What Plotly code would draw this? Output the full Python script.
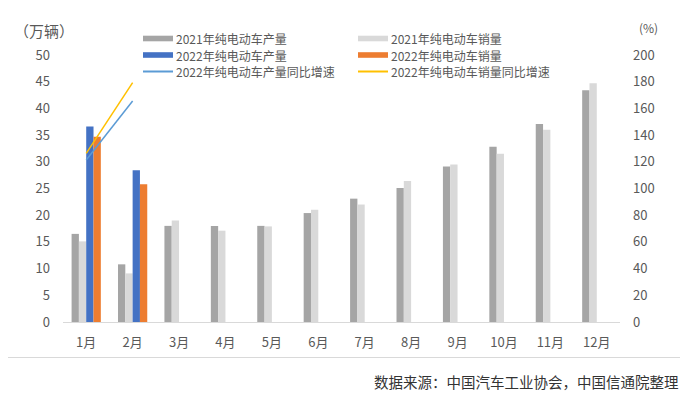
import plotly.graph_objects as go

months = ["1月", "2月", "3月", "4月", "5月", "6月", "7月", "8月", "9月", "10月", "11月", "12月"]
prod_2021 = [16.5, 10.8, 18.0, 18.0, 18.0, 20.4, 23.1, 25.1, 29.1, 32.8, 37.1, 43.4]
sales_2021 = [15.1, 9.1, 19.0, 17.1, 17.9, 21.0, 22.0, 26.4, 29.5, 31.5, 36.0, 44.7]
months_2022 = ["1月", "2月"]
prod_2022 = [36.6, 28.4]
sales_2022 = [34.7, 25.8]
prod_growth_2022 = [121.3, 165.6]
sales_growth_2022 = [126.3, 179.3]

names = ["2021年纯电动车产量", "2021年纯电动车销量", "2022年纯电动车产量",
         "2022年纯电动车销量", "2022年纯电动车产量同比增速", "2022年纯电动车销量同比增速"]
colors = ["#a5a5a5", "#d9d9d9", "#4472c4", "#ed7d31", "#5b9bd5", "#ffc000"]

# page has an 8px body margin; lay out in window pixel coordinates and shift
OFF = 8
W, H = 688 - OFF, 399 - OFF
L, R, T, B = 63 - OFF, 620 - OFF, 55 - OFF, 322 - OFF

def px(x):
    return (x - OFF - L) / (R - L)

def py(y):
    return (B - (y - OFF)) / (B - T)

FONT = "Noto Sans CJK SC, Noto Sans, sans-serif"
TXT = "#595959"

fig = go.Figure()
fig.add_trace(go.Bar(x=months, y=prod_2021, name=names[0], marker_color=colors[0], marker_line_width=0))
fig.add_trace(go.Bar(x=months, y=sales_2021, name=names[1], marker_color=colors[1], marker_line_width=0))
fig.add_trace(go.Bar(x=months_2022, y=prod_2022, name=names[2], marker_color=colors[2], marker_line_width=0))
fig.add_trace(go.Bar(x=months_2022, y=sales_2022, name=names[3], marker_color=colors[3], marker_line_width=0))
fig.add_trace(go.Scatter(x=months_2022, y=prod_growth_2022, name=names[4], mode="lines",
                         line=dict(color=colors[4], width=1.5), yaxis="y2"))
fig.add_trace(go.Scatter(x=months_2022, y=sales_growth_2022, name=names[5], mode="lines",
                         line=dict(color=colors[5], width=1.5), yaxis="y2"))

shapes = []
annotations = []
# outer frame
shapes.append(dict(type="rect", xref="paper", yref="paper", x0=px(5.5), x1=px(680.5), y0=py(357.5), y1=py(7.5),
                   line=dict(color="#d9d9d9", width=1), fillcolor="rgba(0,0,0,0)", layer="below"))

# legend (2 columns x 3 rows)
cols_x = [143, 358]
rows_y = [38.5, 55, 71.5]
for i, nm in enumerate(names):
    r, c = divmod(i, 2)
    x0 = cols_x[c]
    yc = rows_y[r]
    if i < 4:
        shapes.append(dict(type="rect", xref="paper", yref="paper", x0=px(x0), x1=px(x0 + 30),
                           y0=py(yc + 2.8), y1=py(yc - 2.8), line=dict(width=0), fillcolor=colors[i]))
    else:
        shapes.append(dict(type="line", xref="paper", yref="paper", x0=px(x0), x1=px(x0 + 30),
                           y0=py(yc), y1=py(yc), line=dict(color=colors[i], width=2)))
    annotations.append(dict(text=nm, xref="paper", yref="paper", x=px(x0 + 32), y=py(yc),
                            xanchor="left", yanchor="middle", showarrow=False, borderpad=0,
                            font=dict(family=FONT, size=12, color=TXT)))

annotations.append(dict(text="（万辆）", xref="paper", yref="paper", x=px(12), y=py(30),
                        xanchor="left", yanchor="middle", showarrow=False,
                        font=dict(family=FONT, size=15, color=TXT)))
annotations.append(dict(text="(%)", xref="paper", yref="paper", x=px(637), y=py(28),
                        xanchor="left", yanchor="middle", showarrow=False,
                        font=dict(family=FONT, size=12, color=TXT)))
annotations.append(dict(text="数据来源：中国汽车工业协会，中国信通院整理", xref="paper", yref="paper",
                        x=px(681), y=py(381), xanchor="right", yanchor="middle", showarrow=False,
                        font=dict(family=FONT, size=14.5, color="#333333")))

fig.update_layout(
    width=W, height=H,
    margin=dict(l=L, r=W - R, t=T, b=H - B, pad=0),
    paper_bgcolor="white", plot_bgcolor="white",
    barmode="group", bargap=0.37, bargroupgap=0,
    showlegend=False,
    font=dict(family=FONT, size=13, color=TXT),
    xaxis=dict(type="category", showgrid=False, zeroline=False, showline=True, linecolor="#d9d9d9",
               linewidth=1, ticks="", ticklabelstandoff=8, tickfont=dict(size=13, color=TXT)),
    yaxis=dict(range=[0, 50], dtick=5, showgrid=False, zeroline=False, showline=False, ticks="",
               ticklabelstandoff=12, tickfont=dict(size=13, color=TXT)),
    yaxis2=dict(range=[0, 200], dtick=20, overlaying="y", side="right", showgrid=False, zeroline=False,
                showline=False, ticks="", ticklabelstandoff=12, tickfont=dict(size=13, color=TXT)),
    shapes=shapes, annotations=annotations,
)

fig.write_html("out.html")
